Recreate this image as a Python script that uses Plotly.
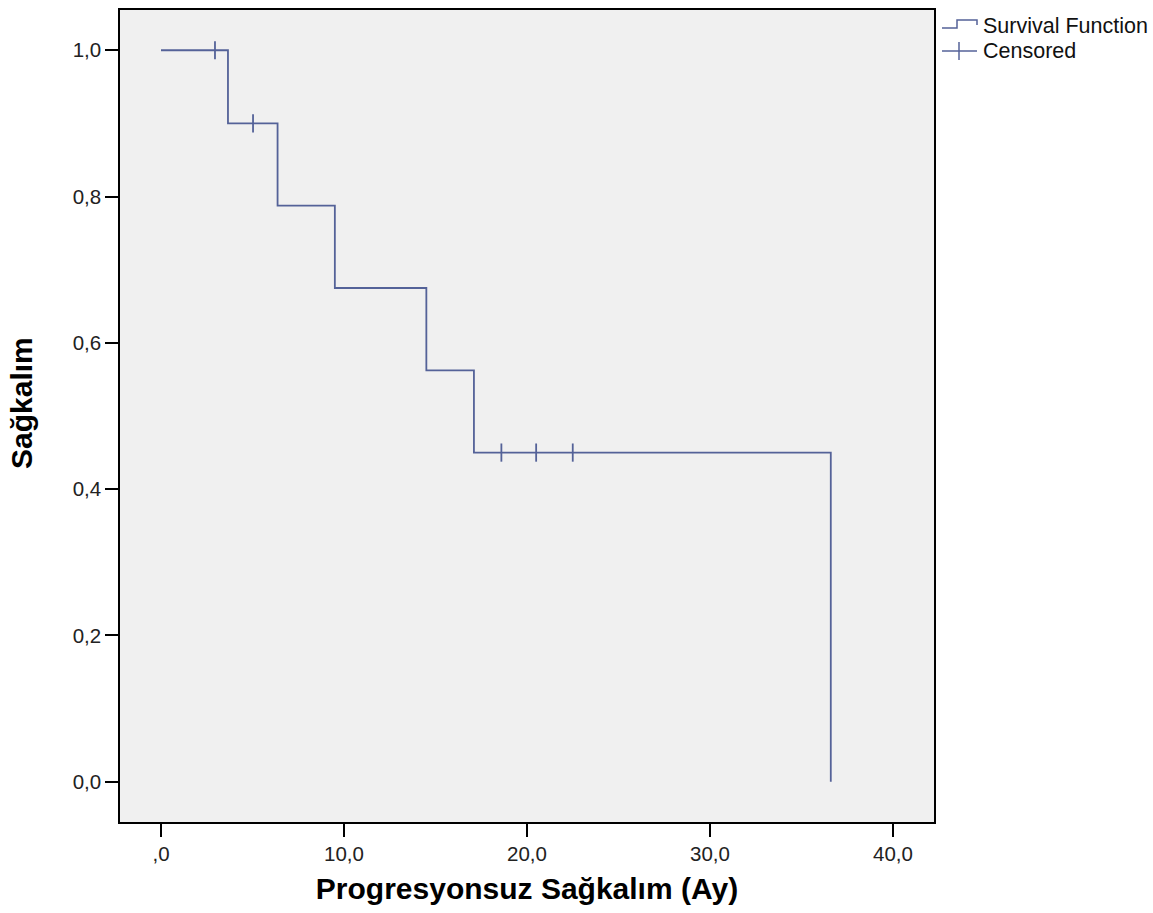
import plotly.graph_objects as go

# Kaplan-Meier step function (months, survival proportion)
event_times = [0, 3.66, 6.37, 9.5, 14.5, 17.1, 36.6]
survival = [1.0, 0.9, 0.7875, 0.675, 0.5625, 0.45, 0.0]

# Censored observations
censor_times = [2.95, 5.03, 18.6, 20.5, 22.5]
censor_surv = [1.0, 0.9, 0.45, 0.45, 0.45]

x_ticks = [0, 10, 20, 30, 40]
x_labels = [",0", "10,0", "20,0", "30,0", "40,0"]
y_ticks = [0.0, 0.2, 0.4, 0.6, 0.8, 1.0]
y_labels = ["0,0", "0,2", "0,4", "0,6", "0,8", "1,0"]

LINE = "rgb(84,98,152)"
FONT = "Liberation Sans, Arial, sans-serif"

W, H = 1153, 913
L, R, T, B = 120, 219, 10, 91
PW, PH = W - L - R, H - T - B


def px(x, y):
    """Pixel position -> paper coordinates."""
    return (x - L) / PW, (H - B - y) / PH


fig = go.Figure()
fig.add_trace(go.Scatter(
    x=event_times, y=survival, mode="lines",
    line=dict(color=LINE, width=1.8, shape="hv"),
    name="Survival Function", showlegend=False,
))
fig.add_trace(go.Scatter(
    x=censor_times, y=censor_surv, mode="markers",
    marker=dict(symbol="line-ns", size=13, line=dict(color=LINE, width=1.8)),
    name="Censored", showlegend=False,
))

# Legend glyphs drawn by hand
shapes = []
pts = [(942, 28), (957, 28), (957, 20), (977, 20), (977, 25)]
path = "M " + " L ".join(f"{px(a, b)[0]},{px(a, b)[1]}" for a, b in pts)
shapes.append(dict(type="path", xref="paper", yref="paper", path=path,
                   line=dict(color=LINE, width=1.5)))
x0, y0 = px(942, 51)
x1, _ = px(977, 51)
shapes.append(dict(type="line", xref="paper", yref="paper", x0=x0, x1=x1, y0=y0, y1=y0,
                   line=dict(color=LINE, width=1.5)))
cx, cy0 = px(959, 42)
_, cy1 = px(959, 60)
shapes.append(dict(type="line", xref="paper", yref="paper", x0=cx, x1=cx, y0=cy0, y1=cy1,
                   line=dict(color=LINE, width=1.5)))

annotations = []
for label, ypx in [("Survival Function", 26), ("Censored", 51)]:
    ax, ay = px(981, ypx)
    annotations.append(dict(text=label, xref="paper", yref="paper", x=ax, y=ay,
                            xanchor="left", yanchor="middle", showarrow=False,
                            font=dict(family=FONT, size=21.5, color="#111")))

# Rotated y-axis title
tx, ty = px(21, 403)
annotations.append(dict(text="<b>Sağkalım</b>", xref="paper", yref="paper", x=tx, y=ty,
                        xanchor="center", yanchor="middle", textangle=-90, showarrow=False,
                        font=dict(family=FONT, size=30, color="black")))

fig.update_layout(
    width=W, height=H,
    margin=dict(l=L, r=R, t=T, b=B, autoexpand=False),
    paper_bgcolor="white", plot_bgcolor="#f0f0f0",
    shapes=shapes, annotations=annotations,
    font=dict(family=FONT, color="black"),
)
fig.update_xaxes(
    range=[-2.24, 42.24], tickvals=x_ticks, ticktext=x_labels,
    showgrid=False, zeroline=False,
    showline=True, mirror=True, linecolor="black", linewidth=1.5,
    ticks="outside", ticklen=13, tickwidth=1.5, tickcolor="black",
    tickfont=dict(family=FONT, size=20.5, color="#222"),
    title=dict(text="<b>Progresyonsuz Sağkalım (Ay)</b>", standoff=14,
               font=dict(family=FONT, size=30, color="black")),
    automargin=False,
)
fig.update_yaxes(
    range=[-0.055, 1.055], tickvals=y_ticks, ticktext=y_labels,
    showgrid=False, zeroline=False,
    showline=True, mirror=True, linecolor="black", linewidth=1.5,
    ticks="outside", ticklen=13, tickwidth=1.5, tickcolor="black",
    tickfont=dict(family=FONT, size=20.5, color="#222"),
    automargin=False,
)

fig.write_html("out.html")
